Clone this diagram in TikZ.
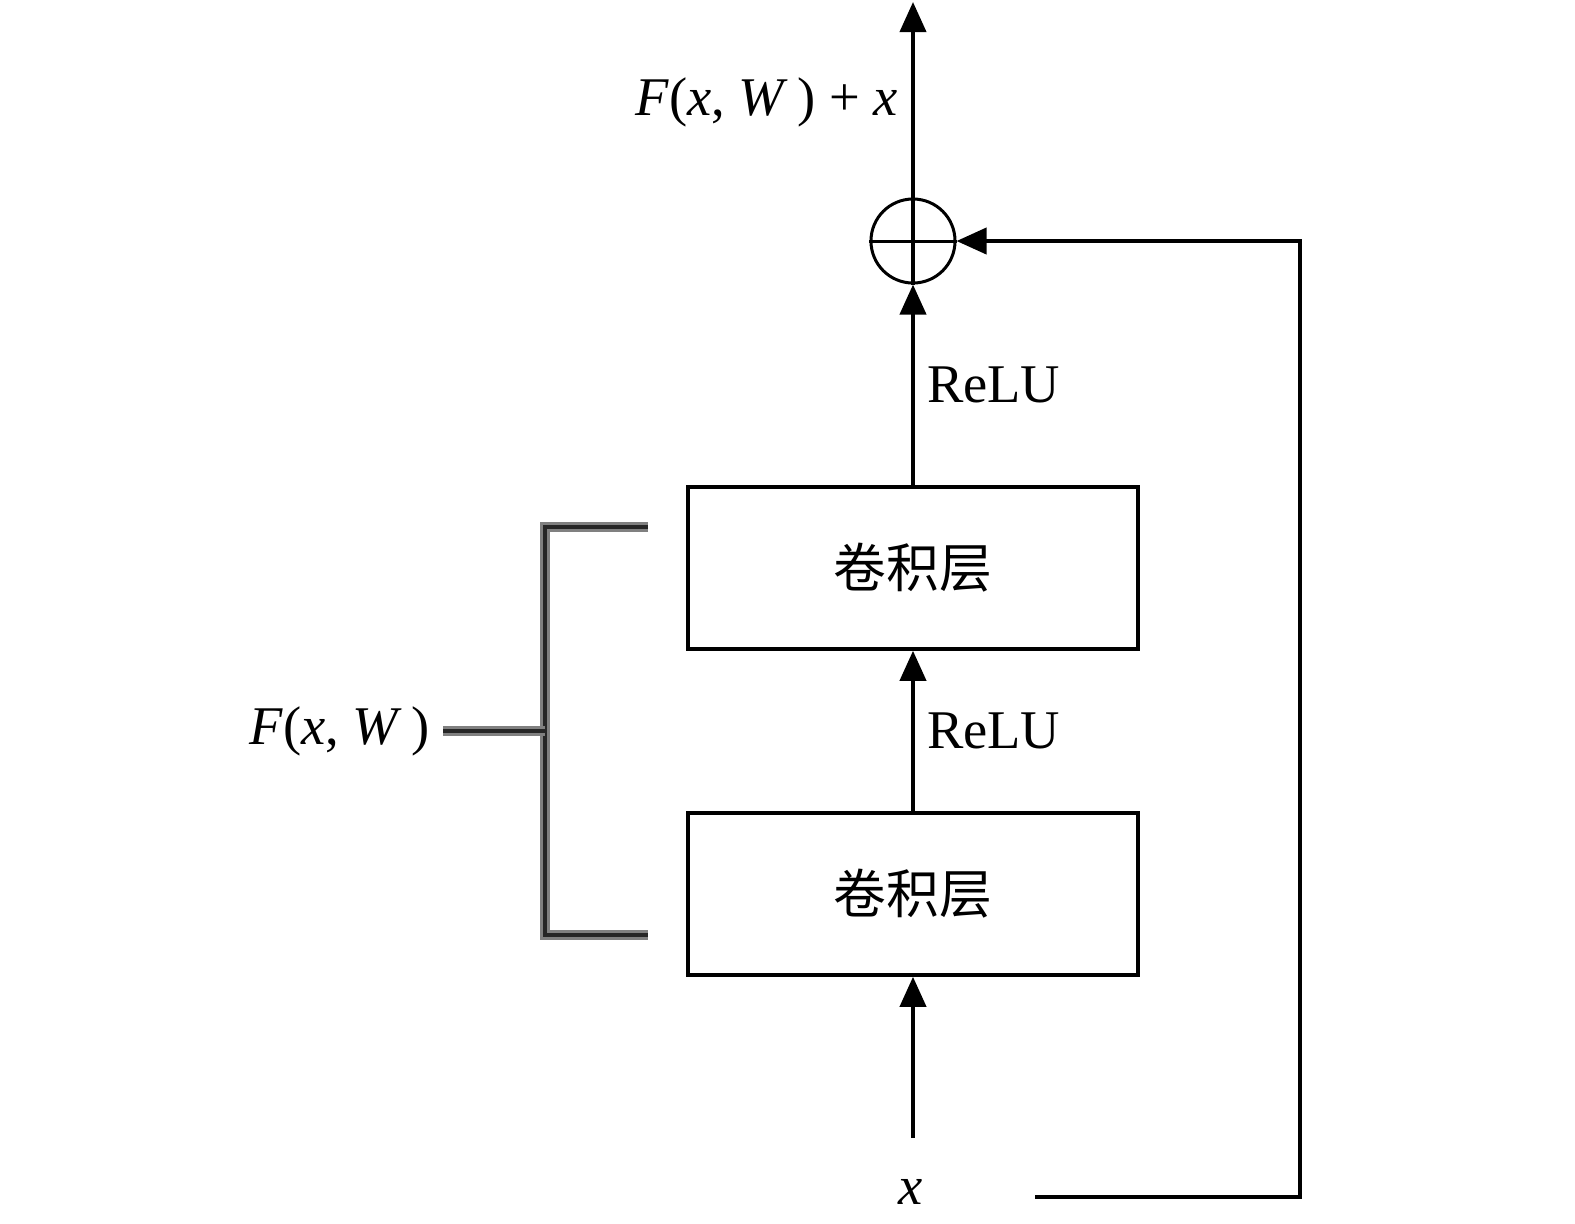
\documentclass[tikz,border=0pt]{standalone}
\usepackage{fontspec}
\setmainfont{Liberation Serif}
\newfontfamily\cjk{Noto Sans CJK SC}
\usetikzlibrary{arrows.meta}

\tikzset{
  arr/.style={line width=0.04cm, -{Triangle[width=0.26cm,length=0.3cm]}},
  layer/.style={draw, line width=0.035cm, minimum width=4.5cm, minimum height=1.62cm, font=\cjk\fontsize{15}{18}\selectfont},
  lbl/.style={font=\fontsize{15.5}{18}\selectfont},
  bracket/.style={line width=0.045cm, black!85, preaction={draw, gray, line width=0.095cm}}
}

\begin{document}
\begin{tikzpicture}[x=0.01cm, y=-0.01cm]
  \useasboundingbox (0,0) rectangle (1575,1223);
  % layers
  \node[layer] (conv2) at (913,568) {卷积层};
  \node[layer] (conv1) at (913,894) {卷积层};
  % sum
  \node[circle, draw, line width=0.03cm, minimum size=0.84cm, inner sep=0pt] (sum) at (913,241) {};
  \draw[line width=0.03cm] (sum.west) -- (sum.east);
  \draw[line width=0.04cm] (sum.south) -- (sum.north);
  \coordinate (out) at (913,2);
  \draw[arr] (sum.north) -- (out);
  \node[lbl, anchor=east] (res) at (910,102) {\textit{F}(\textit{x}, \textit{W}\,) + \textit{x}};
  % input
  \node[lbl] (input) at (911,1192) {\textit{x}};
  \coordinate (in) at (913,1138);
  \draw[arr] (in) -- (conv1.south);
  \draw[arr] (conv1.north) -- node[lbl, right, inner sep=0.12cm] {ReLU} (conv2.south);
  \draw[arr] (conv2.north) -- node[lbl, right, inner sep=0.12cm] {ReLU} (sum.south);
  % shortcut
  \coordinate (skip) at (1035,1197);
  \draw[arr] (skip) -- (1300,1197) |- (sum.east);
  % F(x,W)
  \draw[bracket] (648,527) -- (545,527) -- (545,935) -- (648,935);
  \draw[bracket] (443,731) -- (545,731);
  \node[lbl, anchor=east] (fx) at (442,731) {\textit{F}(\textit{x}, \textit{W}\,)};
\end{tikzpicture}
\end{document}
